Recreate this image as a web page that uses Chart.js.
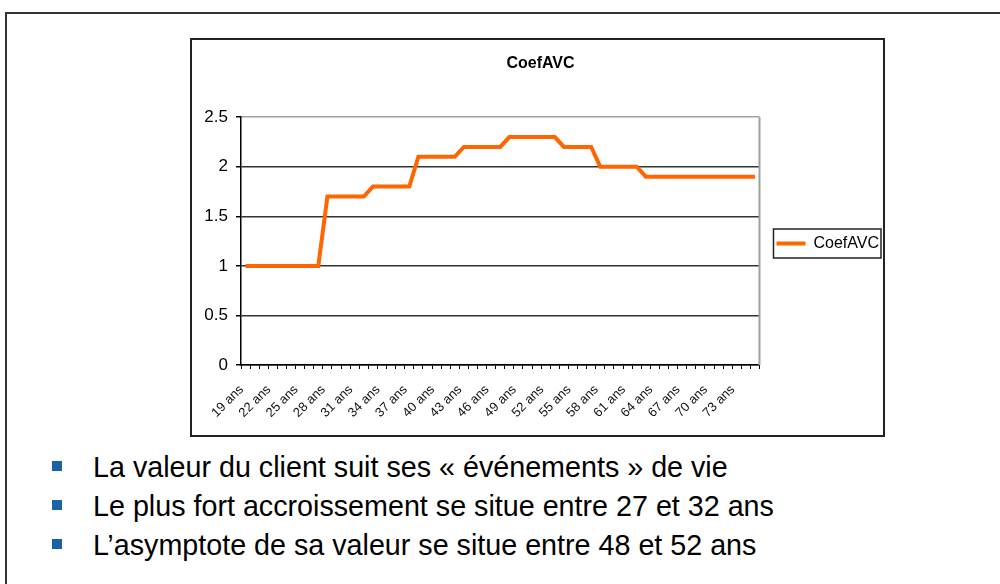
<!DOCTYPE html>
<html>
<head>
<meta charset="utf-8">
<script src="https://cdn.jsdelivr.net/npm/chart.js@4.4.1/dist/chart.umd.min.js"></script>
<style>
  html, body { margin: 0; padding: 0; background: #fff; width: 1000px; height: 584px; overflow: hidden; }
  body { position: relative; font-family: 'Liberation Sans', Arial, sans-serif; }
  .slide { position: absolute; left: 5px; top: 12px; width: 1010px; height: 600px; border-top: 2px solid #333; border-left: 2px solid #333; }
  .box { position: absolute; left: 190px; top: 38px; width: 695px; height: 399px; border: 2px solid #222; box-sizing: border-box; pointer-events: none; }
  .wrap { position: absolute; left: 192px; top: 40px; width: 697px; height: 395px; }
  ul { position: absolute; left: 0; top: 448px; margin: 0; padding: 0; list-style: none; }
  li { position: relative; padding-left: 93px; font-size: 28.7px; line-height: 39px; color: #000; }
  li::before { content: ''; position: absolute; left: 52px; top: 13px; width: 10px; height: 10px; background: #1a62a8; }
</style>
</head>
<body>
<div class="slide"></div>
<div class="wrap"><canvas id="chart" width="697" height="395"></canvas></div>
<div class="box"></div>
<ul>
  <li>La valeur du client suit ses « événements » de vie</li>
  <li>Le plus fort accroissement se situe entre 27 et 32 ans</li>
  <li>L’asymptote de sa valeur se situe entre 48 et 52 ans</li>
</ul>
<script>
const ages = [
  '19 ans', '20 ans', '21 ans', '22 ans', '23 ans', '24 ans', '25 ans', '26 ans', '27 ans', '28 ans',
  '29 ans', '30 ans', '31 ans', '32 ans', '33 ans', '34 ans', '35 ans', '36 ans', '37 ans', '38 ans',
  '39 ans', '40 ans', '41 ans', '42 ans', '43 ans', '44 ans', '45 ans', '46 ans', '47 ans', '48 ans',
  '49 ans', '50 ans', '51 ans', '52 ans', '53 ans', '54 ans', '55 ans', '56 ans', '57 ans', '58 ans',
  '59 ans', '60 ans', '61 ans', '62 ans', '63 ans', '64 ans', '65 ans', '66 ans', '67 ans', '68 ans',
  '69 ans', '70 ans', '71 ans', '72 ans', '73 ans', '74 ans', '75 ans'
];
const coefAVC = [
  1.0, 1.0, 1.0, 1.0, 1.0, 1.0, 1.0, 1.0, 1.0, 1.7,
  1.7, 1.7, 1.7, 1.7, 1.8, 1.8, 1.8, 1.8, 1.8, 2.1,
  2.1, 2.1, 2.1, 2.1, 2.2, 2.2, 2.2, 2.2, 2.2, 2.3,
  2.3, 2.3, 2.3, 2.3, 2.3, 2.2, 2.2, 2.2, 2.2, 2.0,
  2.0, 2.0, 2.0, 2.0, 1.9, 1.9, 1.9, 1.9, 1.9, 1.9,
  1.9, 1.9, 1.9, 1.9, 1.9, 1.9, 1.9
];
const yTicks = [0, 0.5, 1, 1.5, 2, 2.5];
const yTickLabels = ['0', '0.5', '1', '1.5', '2', '2.5'];
const labelEvery = 3;

const font = "'Liberation Sans', Arial, sans-serif";

// plot border on the right + frame round the legend entry
const framePlugin = {
  id: 'frames',
  afterDraw(chart) {
    const { ctx, chartArea } = chart;
    ctx.save();
    ctx.strokeStyle = '#a0a0a0';
    ctx.lineWidth = 2;
    ctx.beginPath();
    ctx.moveTo(chartArea.right, chartArea.top);
    ctx.lineTo(chartArea.right, chartArea.bottom);
    ctx.stroke();
    const hb = chart.legend.legendHitBoxes[0];
    if (hb) {
      const cy = hb.top + hb.height / 2;
      ctx.strokeStyle = '#222';
      ctx.lineWidth = 1.5;
      ctx.strokeRect(hb.left - 3, cy - 14.5, hb.width + 5, 29);
    }
    ctx.restore();
  }
};

new Chart(document.getElementById('chart'), {
  type: 'line',
  data: {
    labels: ages,
    datasets: [{
      label: 'CoefAVC',
      data: coefAVC,
      borderColor: '#ff6600',
      backgroundColor: '#ff6600',
      borderWidth: 4,
      pointRadius: 0,
      tension: 0,
      pointStyle: 'line'
    }]
  },
  options: {
    responsive: false,
    animation: false,
    layout: { padding: 0 },
    plugins: {
      title: {
        display: true,
        text: 'CoefAVC',
        color: '#000',
        font: { family: font, size: 16, weight: 'bold' },
        padding: { top: 14, bottom: 44 }
      },
      legend: {
        position: 'right',
        title: { display: true, text: ' ', font: { size: 10 }, padding: 0 },
        labels: {
          usePointStyle: true,
          pointStyleWidth: 29,
          padding: 17,
          color: '#000',
          font: { family: font, size: 16 }
        }
      },
      tooltip: { enabled: false }
    },
    scales: {
      x: {
        offset: true,
        grid: { offset: true, drawOnChartArea: false, tickLength: 4, color: '#000', tickColor: '#000' },
        border: { color: '#000', width: 1.5 },
        ticks: {
          autoSkip: false,
          maxRotation: 45,
          minRotation: 45,
          padding: 13,
          labelOffset: -4,
          color: '#111',
          font: { family: font, size: 13 },
          callback(v, i) { return i % labelEvery === 0 ? ages[i] : ''; }
        },
        afterFit(s) { s.height = 70; }
      },
      y: {
        min: 0,
        max: 2.5,
        afterBuildTicks(s) { s.ticks = yTicks.map(v => ({ value: v })); },
        grid: {
          color: (c) => c.tick && c.tick.value === 2.5 ? '#a0a0a0' : '#333',
          tickColor: '#000',
          tickLength: 5,
          lineWidth: 1.5
        },
        border: { color: '#000', width: 1.5 },
        ticks: {
          padding: 8,
          color: '#000',
          font: { family: font, size: 17 },
          callback(v) { return yTickLabels[yTicks.indexOf(v)]; }
        },
        afterFit(s) { s.width = 49; }
      }
    }
  },
  plugins: [framePlugin]
});
</script>
</body>
</html>
